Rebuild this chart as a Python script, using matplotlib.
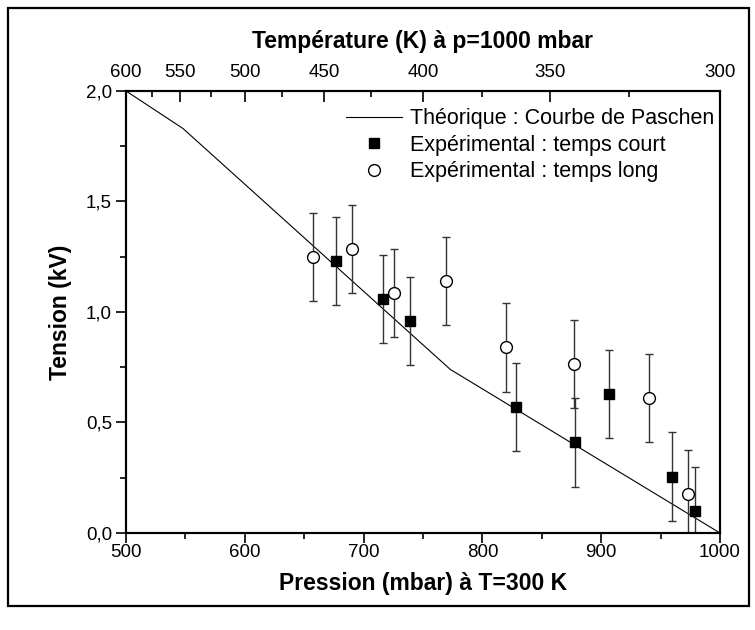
import matplotlib
import numpy as np

matplotlib.use("Agg")
import matplotlib.pyplot as plt
from matplotlib.lines import Line2D
from matplotlib.patches import Rectangle
from matplotlib.ticker import FuncFormatter, MultipleLocator

plt.rcParams["font.family"] = ["Liberation Sans", "DejaVu Sans"]

# Theoretical Paschen curve (pressure in mbar, voltage in kV)
paschen_p = [500, 548, 773, 1000]
paschen_v = [2.0, 1.83, 0.74, 0.0]

# Experimental: short time
court_p = [676.5, 716, 739, 828, 878, 907, 960, 979]
court_v = [1.23, 1.06, 0.96, 0.57, 0.41, 0.63, 0.255, 0.10]
court_err = [0.2, 0.2, 0.2, 0.2, 0.2, 0.2, 0.2, 0.2]

# Experimental: long time
long_p = [657, 690.5, 725.5, 769.5, 820, 877, 940.5, 973]
long_v = [1.25, 1.285, 1.085, 1.14, 0.84, 0.765, 0.61, 0.175]
long_err = [0.2, 0.2, 0.2, 0.2, 0.2, 0.2, 0.2, 0.2]

temp_major = [600, 550, 500, 450, 400, 350, 300]
temp_minor = [575, 525, 475, 425, 375, 325]

labels = ["Théorique : Courbe de Paschen",
          "Expérimental : temps court",
          "Expérimental : temps long"]


def t_to_p(t):
    # p = 1000 mbar * 300 K / T
    return 300000.0 / np.asarray(t, dtype=float)


fig = plt.figure(figsize=(7.55, 6.3), dpi=100)
fig.patches.append(Rectangle((0.010, 0.038), 0.982, 0.950, transform=fig.transFigure,
                             fill=False, edgecolor="black", linewidth=1.6))

ax = fig.add_axes([0.1669, 0.154, 0.7867, 0.7016])

ax.plot(paschen_p, paschen_v, color="black", linewidth=0.8)
ax.errorbar(court_p, court_v, yerr=court_err, fmt="s", color="black", ms=7.5,
            ecolor="#333333", elinewidth=1.0, capsize=3, capthick=1.0)
ax.errorbar(long_p, long_v, yerr=long_err, fmt="o", mfc="white", mec="black",
            mew=1.0, ms=8.5, ecolor="#333333", elinewidth=1.0, capsize=3,
            capthick=1.0)

ax.set_xlim(500, 1000)
ax.set_ylim(0, 2.0)
ax.xaxis.set_major_locator(MultipleLocator(100))
ax.xaxis.set_minor_locator(MultipleLocator(50))
ax.yaxis.set_major_locator(MultipleLocator(0.5))
ax.yaxis.set_minor_locator(MultipleLocator(0.25))
ax.yaxis.set_major_formatter(FuncFormatter(lambda v, _: f"{v:.1f}".replace(".", ",")))
ax.tick_params(which="both", direction="out", top=False, right=False,
               labelsize=13.5, width=1.2, pad=3)
ax.tick_params(axis="x", which="major", pad=1)
ax.tick_params(which="major", length=7)
ax.tick_params(which="minor", length=4)
for side in ax.spines.values():
    side.set_linewidth(1.5)

ax.set_xlabel("Pression (mbar) à T=300 K", fontsize=16.5, fontweight="bold", labelpad=8)
ax.set_ylabel("Tension (kV)", fontsize=16.5, fontweight="bold", labelpad=10)

top = ax.twiny()
top.set_xlim(ax.get_xlim())
top.set_xticks(t_to_p(temp_major))
top.set_xticklabels([str(t) for t in temp_major])
top.set_xticks(t_to_p(temp_minor), minor=True)
top.tick_params(which="both", direction="in", labelsize=13.5, width=1.2, pad=7)
top.tick_params(which="major", length=8)
top.tick_params(which="minor", length=4)
top.set_xlabel("Température (K) à p=1000 mbar", fontsize=16.5, fontweight="bold",
               labelpad=12)
for side in top.spines.values():
    side.set_linewidth(1.5)

handles = [
    Line2D([], [], color="black", linewidth=0.8),
    Line2D([], [], linestyle="none", marker="s", color="black", ms=7.5),
    Line2D([], [], linestyle="none", marker="o", mfc="white", mec="black",
           mew=1.0, ms=8.5),
]
ax.legend(handles, labels, loc="upper right", bbox_to_anchor=(1.012, 0.99),
          frameon=False, fontsize=15.5, handlelength=2.6, handletextpad=0.35,
          labelspacing=0.25, borderaxespad=0.2)

fig.savefig("out.png", dpi=100)
